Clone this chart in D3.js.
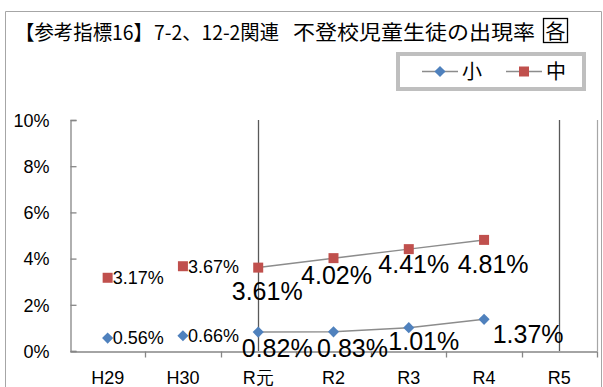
<!DOCTYPE html>
<html>
<head>
<meta charset="utf-8">
<script src="https://cdn.jsdelivr.net/npm/d3@7"></script>
<style>
  html, body { margin: 0; padding: 0; background: #fff; }
  svg { display: block; }
</style>
</head>
<body>
<svg id="chart" width="603" height="387"></svg>
<script>
// Fiscal years and non-attendance rates (%)
const years = ["H29", "H30", "R元", "R2", "R3", "R4", "R5"];
const elementary = [0.56, 0.66, 0.82, 0.83, 1.01, 1.37];   // 小
const juniorHigh = [3.17, 3.67, 3.61, 4.02, 4.41, 4.81];   // 中
const yTicks = [0, 2, 4, 6, 8, 10];
const seriesNames = ["小", "中"];
const titleHead = "【参考指標16】";
const titleRef = "7-2、12-2関連";
const titleSub = "不登校児童生徒の出現率";
const titleTag = "各";

const W = 603, H = 387;
const svg = d3.select("#chart");
const numFont = "'Liberation Sans', Arial, sans-serif";
const jpFont = "'Noto Sans CJK JP', 'Noto Sans', sans-serif";
const blue = "#4f81bd", red = "#c0504d", axisGrey = "#868686", lineGrey = "#8c8c8c";

// outer frame
svg.append("path")
  .attr("d", `M5.5,${H}V11.5H601.5V${H}`)
  .attr("fill", "none").attr("stroke", "#a6a6a6").attr("stroke-width", 1);

// title, in three runs plus a boxed tag
function titleRun(str, x0, len) {
  svg.append("text").attr("x", x0).attr("y", 40)
    .attr("font-family", jpFont).attr("font-size", 20).attr("fill", "#000")
    .attr("textLength", len).attr("lengthAdjust", "spacingAndGlyphs")
    .text(str);
}
titleRun(titleHead, 15, 138);
titleRun(titleRef, 154, 125);
titleRun(titleSub, 293, 242);
svg.append("rect").attr("x", 543.5).attr("y", 18.5).attr("width", 24).attr("height", 24)
  .attr("fill", "none").attr("stroke", "#000").attr("stroke-width", 1.3);
svg.append("text").attr("x", 555.5).attr("y", 38.5).attr("text-anchor", "middle")
  .attr("font-family", jpFont).attr("font-size", 20).attr("fill", "#000")
  .text(titleTag);

// scales
const x = d3.scaleBand().domain(years).range([70, 597]).padding(0);
const cx = d => x(d) + x.bandwidth() / 2;
const y = d3.scaleLinear().domain([0, 10]).range([351, 120]);

// axes
const yAxis = d3.axisLeft(y).tickValues(yTicks).tickSize(-6).tickPadding(21)
  .tickFormat(d => d + "%");
const gy = svg.append("g").attr("transform", "translate(70.5,0)").call(yAxis);
gy.select(".domain").attr("stroke", axisGrey).attr("stroke-width", 1.3);
gy.selectAll(".tick line").attr("stroke", axisGrey).attr("stroke-width", 1.3);
gy.selectAll("text").attr("font-family", numFont).attr("font-size", 18)
  .attr("fill", "#000").attr("dy", "0.35em");

const xAxis = d3.axisBottom(x).tickSize(0).tickSizeOuter(0).tickPadding(0);
const gx = svg.append("g").attr("transform", "translate(0,351.5)").call(xAxis);
gx.select(".domain").attr("stroke", axisGrey).attr("stroke-width", 1.3);
gx.selectAll("text").attr("font-family", numFont).attr("font-size", 18)
  .attr("fill", "#000").attr("y", 32.5).attr("dy", 0);
// category boundary ticks
gx.selectAll("line.bound").data(years).enter()
  .append("line").attr("class", "bound")
  .attr("x1", (d, i) => Math.round(70 + x.bandwidth() * (i + 1)) + 0.5)
  .attr("x2", (d, i) => Math.round(70 + x.bandwidth() * (i + 1)) + 0.5)
  .attr("y1", 0).attr("y2", 6)
  .attr("stroke", axisGrey).attr("stroke-width", 1.3);

// right edge of plot area
svg.append("line").attr("x1", 597.5).attr("x2", 597.5).attr("y1", 120).attr("y2", 351)
  .attr("stroke", "#a6a6a6").attr("stroke-width", 1.2);
// period markers at R元 and R5
["R元", "R5"].forEach(k => {
  svg.append("line").attr("x1", Math.round(cx(k)) + 0.5).attr("x2", Math.round(cx(k)) + 0.5)
    .attr("y1", 120).attr("y2", 351)
    .attr("stroke", "#595959").attr("stroke-width", 1.3);
});

// connecting lines from R元 onward
const line = d3.line().x(d => cx(d.k)).y(d => y(d.v));
const fromIdx = 2;
[elementary, juniorHigh].forEach(vals => {
  const pts = vals.map((v, i) => ({ k: years[i], v })).slice(fromIdx);
  svg.append("path").attr("d", line(pts))
    .attr("fill", "none").attr("stroke", lineGrey).attr("stroke-width", 1.5);
});

// markers
const diamond = d3.symbol(d3.symbolSquare, 62)();
const square = d3.symbol(d3.symbolSquare, 100)();
svg.selectAll("path.mk-e").data(elementary).enter().append("path")
  .attr("class", "mk-e").attr("d", diamond)
  .attr("transform", (v, i) => `translate(${cx(years[i])},${y(v)}) rotate(45)`)
  .attr("fill", blue);
svg.selectAll("path.mk-j").data(juniorHigh).enter().append("path")
  .attr("class", "mk-j").attr("d", square)
  .attr("transform", (v, i) => `translate(${cx(years[i])},${y(v)})`)
  .attr("fill", red);

// value labels: early years small to the right, later years large and nudged
const nudgeE = [null, null, [19, 25], [19, 25], [15, 22], [44, 24]];
const nudgeJ = [null, null, [9, 32], [3, 26], [5, 24], [9, 33]];
function labels(vals, nudge) {
  vals.forEach((v, i) => {
    const px = cx(years[i]), py = y(v);
    const t = svg.append("text").attr("font-family", numFont).attr("fill", "#000")
      .text(v.toFixed(2) + "%");
    if (nudge[i]) {
      t.attr("x", px + nudge[i][0]).attr("y", py + nudge[i][1])
        .attr("text-anchor", "middle").attr("font-size", 25);
    } else {
      t.attr("x", px + 5).attr("y", py).attr("dy", "0.35em").attr("font-size", 18);
    }
  });
}
labels(elementary, nudgeE);
labels(juniorHigh, nudgeJ);

// legend
svg.append("rect").attr("x", 398).attr("y", 54).attr("width", 186).attr("height", 35)
  .attr("fill", "#fff").attr("stroke", "#bfbfbf").attr("stroke-width", 4);
const legY = 71.5;
const legItems = [
  { name: seriesNames[0], x0: 422, mk: diamond, rot: 45, color: blue, tx: 462 },
  { name: seriesNames[1], x0: 506, mk: square, rot: 0, color: red, tx: 546 }
];
legItems.forEach(it => {
  svg.append("line").attr("x1", it.x0).attr("x2", it.x0 + 36)
    .attr("y1", legY).attr("y2", legY).attr("stroke", lineGrey).attr("stroke-width", 1.5);
  svg.append("path").attr("d", it.mk)
    .attr("transform", `translate(${it.x0 + 18},${legY}) rotate(${it.rot})`)
    .attr("fill", it.color);
  svg.append("text").attr("x", it.tx).attr("y", legY).attr("dy", "0.36em")
    .attr("font-family", jpFont).attr("font-size", 20).attr("fill", "#000")
    .text(it.name);
});
</script>
</body>
</html>
